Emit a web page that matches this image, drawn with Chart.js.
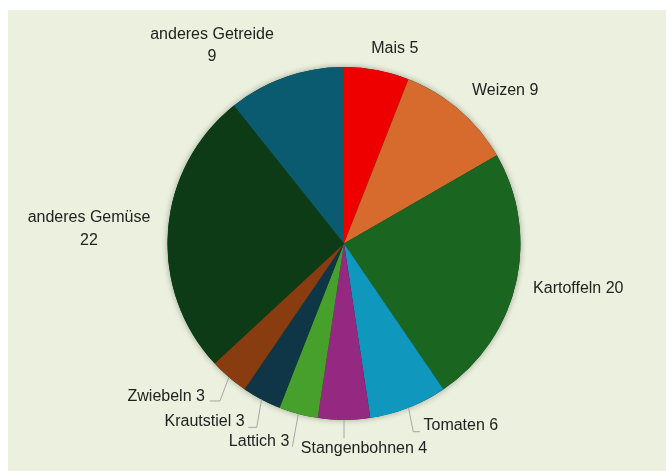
<!DOCTYPE html>
<html lang="de">

<head>
    <meta charset="UTF-8">
    <title>Anbau</title>
    <style>
        body {
            margin: 0;
            background: #ffffff;
        }

        #chart-container {
            position: absolute;
            left: 8px;
            top: 10px;
            width: 658px;
            height: 461px;
            background: #ebf1de;
        }
    </style>
</head>

<body>
    <div id="chart-container">
        <canvas id="myChart" width="658" height="461"></canvas>
    </div>

    <script src="https://cdn.jsdelivr.net/npm/chart.js"></script>

    <script>
        const categories = ['Mais', 'Weizen', 'Kartoffeln', 'Tomaten', 'Stangenbohnen', 'Lattich', 'Krautstiel', 'Zwiebeln', 'anderes Gemüse', 'anderes Getreide'];
        const values = [5, 9, 20, 6, 4, 3, 3, 3, 22, 9];
        const colors = ['#ee0000', '#d76b2e', '#1a6620', '#0f97bd', '#952881', '#47a02b', '#0e3646', '#8a3c11', '#0c3b15', '#0b5b70'];

        // where each label sits, measured from the point where the middle of its slice meets the rim
        const labelLayout = [
            { dx: 18, dy: -21, align: 'center' },
            { dx: 46, dy: -19, align: 'center' },
            { dx: 17, dy: 5.5, align: 'left' },
            { dx: 15, dy: 18, align: 'left', leader: [[4.8, 23.9], [11.5, 23.9]] },
            { dx: 20, dy: 29, align: 'center', leader: [[0, 18.3]] },
            { dx: -9, dy: 27.7, align: 'right', leader: [[-6, 32.7]] },
            { dx: -17, dy: 22.2, align: 'right', leader: [[-4.8, 27.8], [-13.2, 27.8]] },
            { dx: -24, dy: 19.4, align: 'right', leader: [[-8.9, 23.7], [-18.9, 23.7]] },
            { dx: -79, dy: -1.4, align: 'center', split: true },
            { dx: -73.7, dy: -31.2, align: 'center', split: true }
        ];

        const pieShadow = {
            id: 'pieShadow',
            beforeDatasetsDraw(chart) {
                const arc = chart.getDatasetMeta(0).data[0];
                const c = chart.ctx;
                c.save();
                c.shadowColor = 'rgba(0, 0, 0, 0.35)';
                c.shadowBlur = 6;
                c.fillStyle = '#0c3b15';
                c.beginPath();
                c.arc(arc.x, arc.y, arc.outerRadius, 0, Math.PI * 2);
                c.fill();
                c.restore();
            }
        };

        const sliceLabels = {
            id: 'sliceLabels',
            afterDatasetsDraw(chart) {
                const c = chart.ctx;
                c.save();
                c.font = '16px "Liberation Sans", Arial, sans-serif';
                c.fillStyle = '#222222';
                c.textBaseline = 'middle';
                chart.getDatasetMeta(0).data.forEach((arc, i) => {
                    const mid = (arc.startAngle + arc.endAngle) / 2;
                    const px = arc.x + Math.cos(mid) * arc.outerRadius;
                    const py = arc.y + Math.sin(mid) * arc.outerRadius;
                    const lay = labelLayout[i];

                    if (lay.leader) {
                        c.strokeStyle = '#a6a6a6';
                        c.lineWidth = 1;
                        c.beginPath();
                        c.moveTo(px, py);
                        lay.leader.forEach(p => c.lineTo(px + p[0], py + p[1]));
                        c.stroke();
                    }

                    c.textAlign = lay.align;
                    const tx = px + lay.dx, ty = py + lay.dy;
                    if (lay.split) {
                        c.fillText(categories[i], tx, ty - 11.2);
                        c.fillText(String(values[i]), tx, ty + 11.2);
                    } else {
                        c.fillText(categories[i] + ' ' + values[i], tx, ty);
                    }
                });
                c.restore();
            }
        };

        const ctx = document.getElementById('myChart');
        const myChart = new Chart(ctx, {
            type: 'pie',
            data: {
                labels: categories,
                datasets: [{
                    data: values,
                    backgroundColor: colors,
                    borderColor: colors,
                    borderWidth: 0
                }]
            },
            options: {
                responsive: false,
                animation: false,
                layout: {
                    padding: { left: 159.5, right: 145.5, top: 57, bottom: 51 }
                },
                plugins: {
                    legend: { display: false },
                    tooltip: { enabled: false }
                }
            },
            plugins: [pieShadow, sliceLabels]
        });
    </script>
</body>

</html>
